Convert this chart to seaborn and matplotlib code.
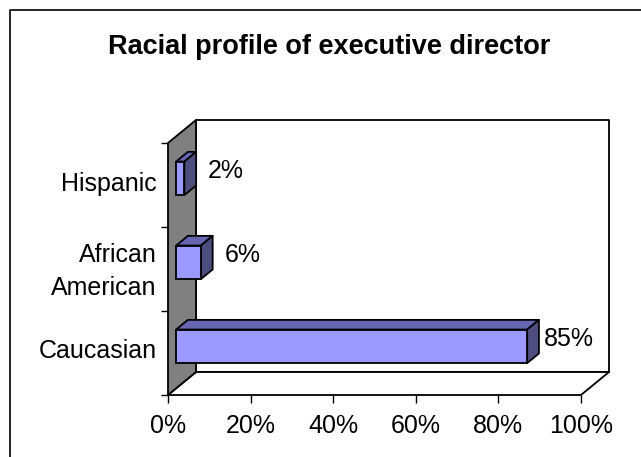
import textwrap
import matplotlib
matplotlib.use("Agg")
import matplotlib.pyplot as plt
import matplotlib.transforms as mtransforms
from matplotlib.patches import Polygon
from matplotlib.lines import Line2D
import seaborn as sns
import pandas as pd

# ---------------- data ----------------
categories = ["Hispanic", "African American", "Caucasian"]
values = [2, 6, 85]
value_labels = ["2%", "6%", "85%"]
tick_values = [0, 20, 40, 60, 80, 100]
tick_labels = ["0%", "20%", "40%", "60%", "80%", "100%"]
title = "Racial profile of executive director"

# ---------------- style ----------------
sns.set_theme(style="white")
plt.rcParams['font.family'] = ['Liberation Sans', 'DejaVu Sans']

W, H, DPI = 641, 457, 100
fig = plt.figure(figsize=(W / DPI, H / DPI), dpi=DPI)
fig.patch.set_facecolor("white")

ax = fig.add_axes([168 / W, (H - 395) / H, 413 / W, 252 / H])
ax.set_facecolor("none")

DX, DY = 28, 23          # depth of the 3D box in pixels
T0, T1 = 0.29, 0.71      # depth range of the bars
FRONT = "#9999FF"
TOP = "#6666B3"
SIDE = "#4D4D80"
WALL = "#808080"
LW = 1.3
FS = 18

df = pd.DataFrame({"category": categories, "value": values})
sns.barplot(data=df, x="value", y="category", order=categories, orient="h",
            width=0.4, color=FRONT, saturation=1, edgecolor="black",
            linewidth=LW, ax=ax, zorder=3)
bars = list(ax.patches)

ax.set_xlim(0, 100)
ax.set_ylim(len(categories) - 0.5, -0.5)

sx = 100 / 413.0   # data units per pixel (x)
sy = 3 / 252.0     # data units per pixel (y), y inverted


def sh(x, y, t):
    return (x + t * DX * sx, y - t * DY * sy)


def poly(pts, fc, z):
    p = Polygon(pts, closed=True, facecolor=fc, edgecolor="black",
                linewidth=LW, joinstyle="round", clip_on=False, zorder=z)
    ax.add_patch(p)


y_lo, y_hi = len(categories) - 0.5, -0.5
# back wall
poly([sh(0, y_lo, 1), sh(100, y_lo, 1), sh(100, y_hi, 1), sh(0, y_hi, 1)], "white", 0.5)
# floor
poly([sh(0, y_lo, 0), sh(100, y_lo, 0), sh(100, y_lo, 1), sh(0, y_lo, 1)], "white", 0.6)
# left wall
poly([sh(0, y_lo, 0), sh(0, y_hi, 0), sh(0, y_hi, 1), sh(0, y_lo, 1)], WALL, 0.7)

# bars: shift front face, add top and side faces
off0 = mtransforms.ScaledTranslation(T0 * DX / DPI, T0 * DY / DPI, fig.dpi_scale_trans)
for b in bars:
    x0, y0 = b.get_x(), b.get_y()
    w, h = b.get_width(), b.get_height()
    x1 = x0 + w
    ytop, ybot = min(y0, y0 + h), max(y0, y0 + h)
    b.set_transform(ax.transData + off0)
    b.set_clip_on(False)
    b.set_zorder(3)
    poly([sh(x0, ytop, T0), sh(x1, ytop, T0), sh(x1, ytop, T1), sh(x0, ytop, T1)], TOP, 2.9)
    poly([sh(x1, ytop, T0), sh(x1, ybot, T0), sh(x1, ybot, T1), sh(x1, ytop, T1)], SIDE, 2.9)

# data labels
for i, (v, lab) in enumerate(zip(values, value_labels)):
    ax.annotate(lab, xy=(v, i), xytext=(T1 * DX + 30, 14), textcoords="offset pixels",
                ha="center", va="center", fontsize=FS, color="black",
                annotation_clip=False, zorder=5)

# axes decorations
for s in ax.spines.values():
    s.set_visible(False)
ax.set_xticks(tick_values)
ax.set_xticklabels(tick_labels, fontsize=FS)
ax.set_yticks(range(len(categories)))
ax.set_yticklabels([textwrap.fill(c, 10) for c in categories], fontsize=FS,
                   linespacing=1.45)
ax.set_yticks([i - 0.5 for i in range(len(categories) + 1)], minor=True)
ax.tick_params(axis="x", bottom=True, direction="out", length=6, width=1,
               color="black", pad=7.5, labelcolor="black")
ax.tick_params(axis="y", which="major", left=True, length=0, pad=8, labelcolor="black")
ax.tick_params(axis="y", which="minor", left=True, direction="out", length=5,
               width=1, color="black")
ax.set_xlabel("")
ax.set_ylabel("")
ax.grid(False)

# nudge category labels up slightly, as in the reference
up = mtransforms.ScaledTranslation(0, 4 / DPI, fig.dpi_scale_trans)
for lbl in ax.get_yticklabels():
    lbl.set_transform(lbl.get_transform() + up)

fig.text(329 / W, 1 - 47 / H, title, ha="center", va="center",
         fontsize=19.5, fontweight="bold", color="black")

# outer border (left and top edges)
fig.add_artist(Line2D([10 / W, 10 / W, 1.0], [0.0, 1 - 10 / H, 1 - 10 / H],
                      transform=fig.transFigure, color="black", linewidth=1.2))

fig.savefig("out.png", dpi=DPI)
